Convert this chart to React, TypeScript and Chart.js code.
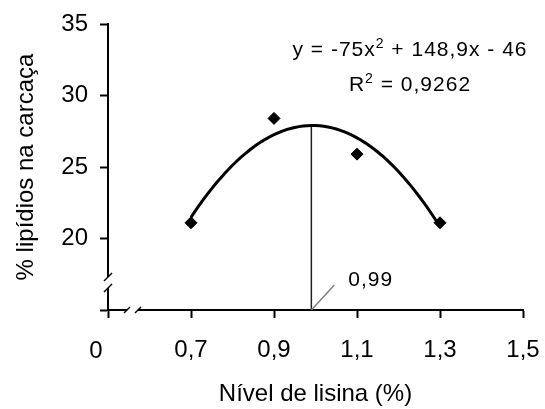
import React, { useEffect, useRef } from "react";
import { Chart, registerables } from "chart.js";

Chart.register(...registerables);

// ---- data ----
const lysineLevels = [0.7, 0.9, 1.1, 1.3];
const lipidValues = [21.1, 28.4, 25.9, 21.1];
const xTickValues = [0.5, 0.7, 0.9, 1.1, 1.3, 1.5];
const xTickLabels = ["0", "0,7", "0,9", "1,1", "1,3", "1,5"];
const yTickValues = [15, 20, 25, 30, 35];
const yTickLabels = ["", "20", "25", "30", "35"];
const fitCoefficients = [-75, 148.9, -46]; // a x^2 + b x + c
const fitRange = [0.7, 1.3];
const optimumX = 0.99;
const optimumLabel = "0,99";
const equationLines = ["y = -75x² + 148,9x - 46", "R² = 0,9262"];
const xTitle = "Nível de lisina (%)";
const yTitle = "% lipídios na carcaça";

const FONT = "'Liberation Sans', Arial, sans-serif";

const fit = (x: number) =>
  fitCoefficients[0] * x * x + fitCoefficients[1] * x + fitCoefficients[2];

const fitPoints: { x: number; y: number }[] = [];
for (let i = 0; i <= 60; i++) {
  const x = fitRange[0] + ((fitRange[1] - fitRange[0]) * i) / 60;
  fitPoints.push({ x, y: fit(x) });
}

// draws text with "²" rendered as a raised small "2", centered at cx
function drawSupText(ctx: any, text: string, cx: number, cy: number, size: number) {
  const parts = text.split("²");
  const main = `${size}px ${FONT}`;
  const sup = `${Math.round(size * 0.68)}px ${FONT}`;
  let total = 0;
  const widths: number[] = [];
  parts.forEach((p, i) => {
    ctx.font = main;
    const w = ctx.measureText(p).width;
    widths.push(w);
    total += w;
    if (i < parts.length - 1) {
      ctx.font = sup;
      total += ctx.measureText("2").width;
    }
  });
  let x = cx - total / 2;
  ctx.textAlign = "left";
  ctx.textBaseline = "middle";
  parts.forEach((p, i) => {
    ctx.font = main;
    ctx.fillText(p, x, cy);
    x += widths[i];
    if (i < parts.length - 1) {
      ctx.font = sup;
      ctx.fillText("2", x, cy - size * 0.3);
      x += ctx.measureText("2").width;
    }
  });
}

const decorPlugin = {
  id: "decor",
  afterDraw(chart: any) {
    const { ctx, chartArea, scales } = chart;
    const xs = scales.x;
    const ax = xs.getPixelForValue(xTickValues[0]);
    const by = chartArea.bottom;
    ctx.save();
    // axis breaks
    ctx.fillStyle = "#ffffff";
    ctx.fillRect(ax - 2, by - 33, 4, 11);
    ctx.fillRect(ax + 19, by - 2, 11, 4);
    ctx.strokeStyle = "#000";
    ctx.lineWidth = 1.4;
    const seg = (x1: number, y1: number, x2: number, y2: number) => {
      ctx.beginPath();
      ctx.moveTo(x1, y1);
      ctx.lineTo(x2, y2);
      ctx.stroke();
    };
    seg(ax - 4, by - 29, ax + 4, by - 37);
    seg(ax - 4, by - 18, ax + 4, by - 26);
    seg(ax + 16, by + 3, ax + 22, by - 3);
    seg(ax + 27, by + 3, ax + 33, by - 3);
    // "0" label at the origin of the broken axis
    ctx.fillStyle = "#000";
    ctx.font = `24px ${FONT}`;
    ctx.textAlign = "center";
    ctx.textBaseline = "middle";
    ctx.fillText(xTickLabels[0], ax - 12, by + 41);
    // pointer to optimum
    const ox = xs.getPixelForValue(optimumX);
    ctx.strokeStyle = "#808080";
    ctx.lineWidth = 1.5;
    seg(ox, by, ox + 23, by - 25);
    try { ctx.letterSpacing = "1px"; } catch (e) {}
    ctx.font = `21px ${FONT}`;
    ctx.textAlign = "left";
    ctx.fillText(optimumLabel, ox + 37, by - 30);
    // equation
    drawSupText(ctx, equationLines[0], 410, 50, 21);
    drawSupText(ctx, equationLines[1], 410, 85, 21);
    ctx.restore();
  },
};

export default function App() {
  const ref = useRef<HTMLCanvasElement | null>(null);
  useEffect(() => {
    if (!ref.current) return;
    const chart = new Chart(ref.current, {
      type: "scatter",
      data: {
        datasets: [
          {
            type: "line",
            data: [
              { x: optimumX, y: yTickValues[0] },
              { x: optimumX, y: fit(optimumX) },
            ],
            borderColor: "#222",
            borderWidth: 1.5,
            pointRadius: 0,
            order: 3,
          } as any,
          {
            type: "line",
            data: fitPoints,
            borderColor: "#000",
            borderWidth: 3,
            pointRadius: 0,
            tension: 0,
            order: 2,
          } as any,
          {
            data: lysineLevels.map((x, i) => ({ x, y: lipidValues[i] })),
            pointStyle: "rectRot",
            pointRadius: 6,
            backgroundColor: "#000",
            borderColor: "#000",
            order: 1,
          },
        ],
      },
      options: {
        responsive: false,
        animation: false,
        devicePixelRatio: 1,
        layout: { padding: { top: 24, right: 22, left: 0, bottom: 0 } },
        plugins: { legend: { display: false }, tooltip: { enabled: false } },
        scales: {
          x: {
            type: "linear",
            min: 0.5,
            max: 1.5,
            afterBuildTicks: (s: any) => {
              s.ticks = xTickValues.map((v) => ({ value: v }));
            },
            afterFit: (s: any) => {
              s.height = 99;
              s.paddingLeft = 0;
              s.paddingRight = 0;
            },
            ticks: {
              callback: (_v: any, i: number) => (i === 0 ? "" : xTickLabels[i]),
              color: "#000",
              font: { family: FONT, size: 24 },
              padding: 18,
              maxRotation: 0,
              autoSkip: false,
            },
            grid: {
              drawOnChartArea: false,
              drawTicks: true,
              tickLength: 8,
              tickColor: "#000",
              tickWidth: 2,
            },
            border: { display: true, color: "#000", width: 2 },
            title: {
              display: true,
              text: xTitle,
              color: "#000",
              font: { family: FONT, size: 24 },
              padding: 0,
            },
          },
          y: {
            type: "linear",
            min: 15,
            max: 35,
            afterBuildTicks: (s: any) => {
              s.ticks = yTickValues.map((v) => ({ value: v }));
            },
            afterFit: (s: any) => {
              s.width = 108;
              s.paddingTop = 0;
              s.paddingBottom = 0;
            },
            ticks: {
              callback: (_v: any, i: number) => yTickLabels[i],
              color: "#000",
              font: { family: FONT, size: 24 },
              padding: 12,
              autoSkip: false,
            },
            grid: {
              drawOnChartArea: false,
              drawTicks: true,
              tickLength: 8,
              tickColor: "#000",
              tickWidth: 2,
            },
            border: { display: true, color: "#000", width: 2 },
            title: {
              display: true,
              text: yTitle,
              color: "#000",
              font: { family: FONT, size: 24 },
              padding: { top: 12, bottom: 0 },
            },
          },
        },
      },
      plugins: [decorPlugin],
    });
    return () => chart.destroy();
  }, []);
  return (
    <div style={{ position: "absolute", left: 0, top: 0, width: 545, height: 409, background: "#fff" }}>
      <canvas ref={ref} width={545} height={409} />
    </div>
  );
}
